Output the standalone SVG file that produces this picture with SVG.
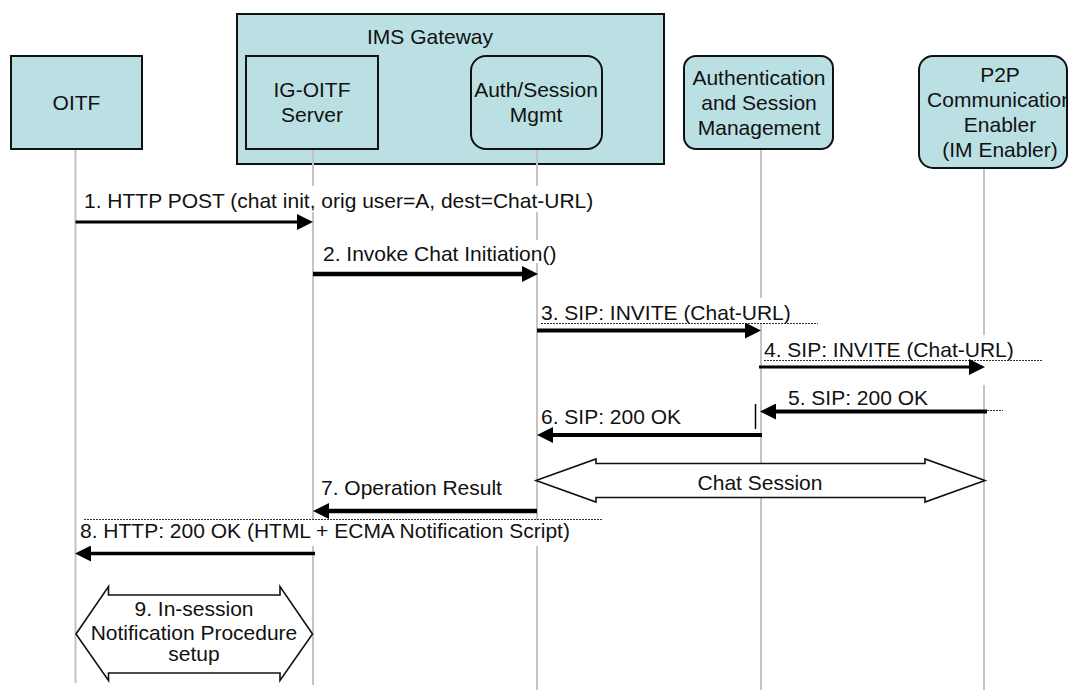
<svg xmlns="http://www.w3.org/2000/svg" width="1068" height="690" viewBox="0 0 1068 690">
<defs>
<style>
.node{fill:#BBE0E3;stroke:#111;stroke-width:2}
.t{font-family:"Liberation Sans",Arial,sans-serif;font-size:21px;fill:#111}
.c{text-anchor:middle}
.life{stroke:#C4C4C4;stroke-width:2;fill:none}
.msg{stroke:#000;fill:none}
.dot{stroke:#333;stroke-width:1;stroke-dasharray:2 1;fill:none}
.bg{fill:#fff}
.dbl{fill:#fff;stroke:#111;stroke-width:1.6}
</style>
<marker id="ah" markerUnits="userSpaceOnUse" markerWidth="16" markerHeight="16" refX="0" refY="8" orient="auto" viewBox="0 0 16 16">
<path d="M0,0 L16,8 L0,16 z" fill="#000"/>
</marker>
</defs>
<rect width="1068" height="690" fill="#fff"/>

<g id="gateway">
<rect class="node" x="237" y="14" width="427" height="150"/>
<text class="t" x="367" y="44">IMS Gateway</text>
</g>
<g id="oitf">
<rect class="node" x="11" y="56" width="131" height="93"/>
<text class="t c" x="76.5" y="110">OITF</text>
</g>
<g id="igoitf">
<rect class="node" x="246" y="56" width="132" height="93"/>
<text class="t c" x="312" y="97">IG-OITF</text>
<text class="t c" x="312" y="122">Server</text>
</g>
<g id="authsession">
<rect class="node" x="471" y="56" width="131" height="93" rx="15" ry="15"/>
<text class="t c" x="536" y="97">Auth/Session</text>
<text class="t c" x="536" y="122">Mgmt</text>
</g>
<g id="authentication">
<rect class="node" x="684" y="56" width="149" height="93" rx="12" ry="12"/>
<text class="t c" x="759" y="85">Authentication</text>
<text class="t c" x="759" y="110">and Session</text>
<text class="t c" x="759" y="135">Management</text>
</g>
<g id="p2p">
<rect class="node" x="919" y="56" width="148" height="112" rx="14" ry="14"/>
<text class="t c" x="1000" y="82">P2P</text>
<text class="t c" x="1000" y="107">Communication</text>
<text class="t c" x="1000" y="132">Enabler</text>
<text class="t c" x="1000" y="157">(IM Enabler)</text>
</g>

<g id="lifelines">
<line class="life" x1="75.5" y1="150" x2="75.5" y2="683"/>
<line class="life" x1="313" y1="150" x2="313" y2="685"/>
<line class="life" x1="537" y1="150" x2="537" y2="690"/>
<line class="life" x1="761" y1="150" x2="761" y2="690"/>
<line class="life" x1="984" y1="169" x2="984" y2="690"/>
</g>

<g id="connectors">
<rect class="bg" x="82" y="186" width="510" height="26"/>
<text class="t" x="84" y="208">1. HTTP POST (chat init, orig user=A, dest=Chat-URL)</text>
<line class="msg" x1="75.5" y1="222" x2="297" y2="222" stroke-width="3" marker-end="url(#ah)"/>

<rect class="bg" x="320" y="240" width="236" height="23"/>
<text class="t" x="323" y="261">2. Invoke Chat Initiation()</text>
<line class="msg" x1="313" y1="274" x2="522" y2="274" stroke-width="4.5" marker-end="url(#ah)"/>

<rect class="bg" x="539" y="298" width="250" height="25"/>
<text class="t" x="541" y="319.5">3. SIP: INVITE (Chat-URL)</text>
<line class="dot" x1="541" y1="323.5" x2="818" y2="323.5"/>
<line class="msg" x1="537" y1="330.5" x2="745" y2="330.5" stroke-width="4" marker-end="url(#ah)"/>

<rect class="bg" x="762" y="335" width="283" height="50"/>
<text class="t" x="764" y="357">4. SIP: INVITE (Chat-URL)</text>
<line class="dot" x1="764" y1="360.5" x2="1043" y2="360.5"/>
<line class="msg" x1="759" y1="367" x2="969" y2="367" stroke-width="3" marker-end="url(#ah)"/>

<text class="t" x="788" y="405">5. SIP: 200 OK</text>
<line class="dot" x1="987" y1="410.5" x2="1003" y2="410.5"/>
<line class="msg" x1="987" y1="411.5" x2="776" y2="411.5" stroke-width="4" marker-end="url(#ah)"/>
<line class="msg" x1="755.5" y1="404" x2="755.5" y2="429" stroke-width="1.5"/>

<text class="t" x="541" y="423.5">6. SIP: 200 OK</text>
<line class="msg" x1="762" y1="435" x2="553" y2="435" stroke-width="4" marker-end="url(#ah)"/>

<g id="chatsession">
<polygon class="dbl" points="536,480.5 596,459 596,463.5 925,463.5 925,459 985,480.5 925,502 925,497.5 596,497.5 596,502"/>
<text class="t c" x="760" y="489.5">Chat Session</text>
</g>

<text class="t" x="321" y="495">7. Operation Result</text>
<line class="msg" x1="537" y1="511" x2="329" y2="511" stroke-width="4.5" marker-end="url(#ah)"/>

<rect class="bg" x="78" y="520" width="497" height="26"/>
<line class="dot" x1="84" y1="519.5" x2="603" y2="519.5"/>
<text class="t" x="80" y="538">8. HTTP: 200 OK (HTML + ECMA Notification Script)</text>
<line class="msg" x1="315" y1="553.5" x2="91" y2="553.5" stroke-width="3.5" marker-end="url(#ah)"/>

<g id="insession">
<polygon class="dbl" points="76,634 108.5,586.5 108.5,595 280,595 280,586.5 312.5,634 280,680.5 280,673 108.5,673 108.5,680.5"/>
<text class="t c" x="194" y="616">9. In-session</text>
<text class="t c" x="194" y="640">Notification Procedure</text>
<text class="t c" x="194" y="661">setup</text>
</g>
</g>
</svg>
